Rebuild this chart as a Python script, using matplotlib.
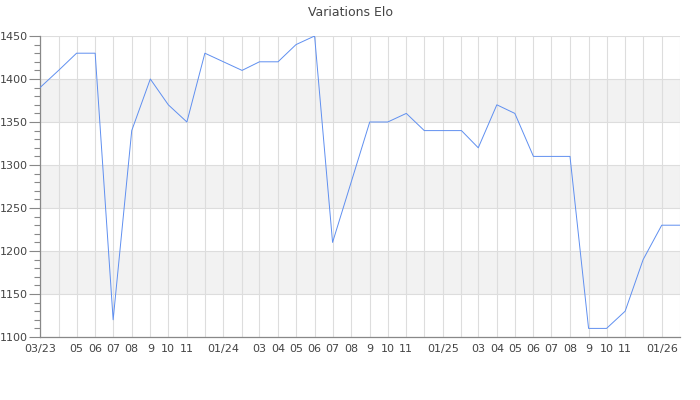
import matplotlib
matplotlib.use("Agg")
import matplotlib.pyplot as plt
import pandas as pd
import numpy as np

# Monthly Elo values (Mar 2023 .. Feb 2026)
months = pd.date_range("2023-03-01", "2026-02-01", freq="MS")
elo = [1390, 1410, 1430, 1430, 1120, 1340, 1400, 1370, 1350, 1430,
       1420, 1410, 1420, 1420, 1440, 1450, 1210, 1280, 1350, 1350, 1360, 1340,
       1340, 1340, 1320, 1370, 1360, 1310, 1310, 1310, 1110, 1110, 1130, 1190,
       1230, 1230]
tick_labels = ["03/23", "", "05", "06", "07", "08", "9", "10", "11", "",
               "01/24", "", "03", "04", "05", "06", "07", "08", "9", "10", "11", "",
               "01/25", "", "03", "04", "05", "06", "07", "08", "9", "10", "11", "",
               "01/26", ""]
title = "Variations Elo"

fig = plt.figure(figsize=(7, 4), dpi=100)
ax = fig.add_axes([40/700, 1-337/400, 640.3/700, 301/400])

# alternating bands
for lo in range(1150, 1450, 100):
    ax.axhspan(lo, lo + 50, color="#f2f2f2", zorder=0, lw=0)

ax.plot(months, elo, color="#5f8ff0", lw=0.7, zorder=3)

ax.set_xlim(months[0], months[-1])
ax.set_ylim(1100, 1450)

ax.set_xticks(months)
ax.set_xticklabels(tick_labels)
ax.tick_params(axis="x", length=0, pad=5, labelsize=8, labelcolor="#444444")

ax.set_yticks(np.arange(1100, 1451, 50))
ax.set_yticks(np.arange(1100, 1451, 10), minor=True)
ax.tick_params(axis="y", which="major", length=8, width=0.8, color="#888888",
               pad=1, labelsize=8, labelcolor="#444444")
ax.tick_params(axis="y", which="minor", length=4, width=0.8, color="#888888")

ax.grid(True, which="major", color="#dddddd", lw=0.8, zorder=1)
ax.set_axisbelow(True)

for s in ["top", "right"]:
    ax.spines[s].set_visible(False)
for s in ["left", "bottom"]:
    ax.spines[s].set_color("#888888")
    ax.spines[s].set_linewidth(0.9)

fig.text(0.5, 1-12/400, title, ha="center", va="center", fontsize=9, color="#444444")

fig.savefig("out.png", dpi=100)
